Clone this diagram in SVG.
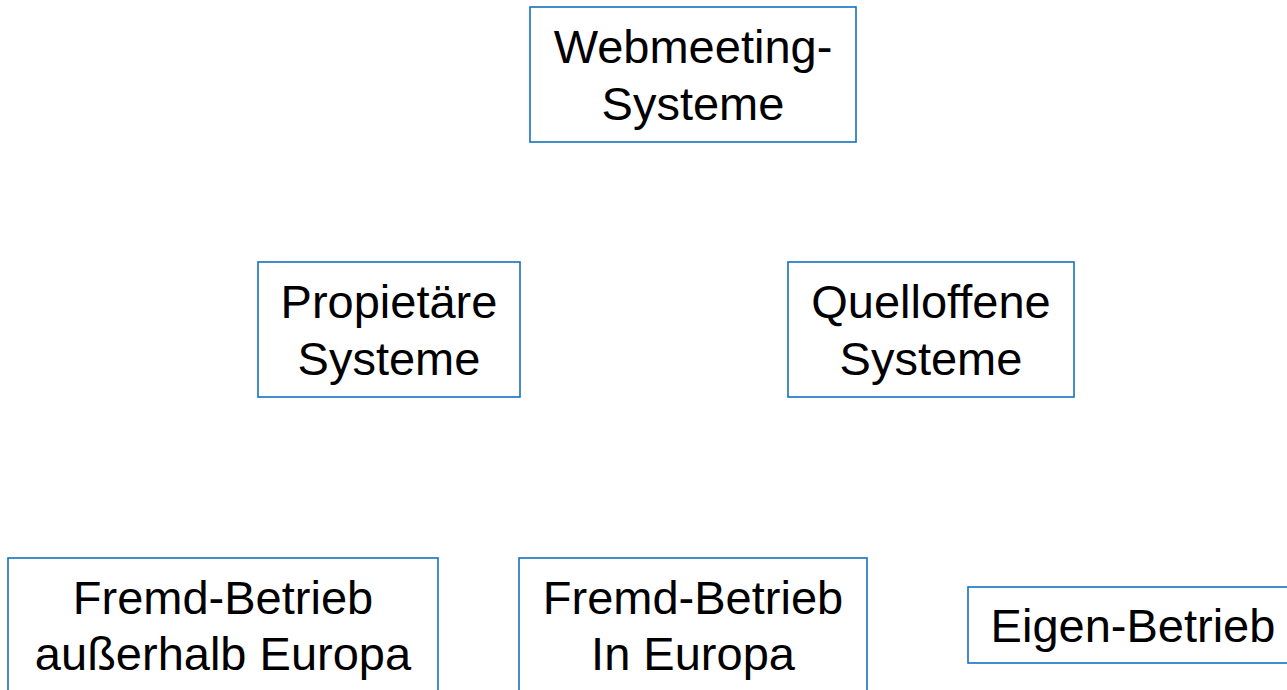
<svg xmlns="http://www.w3.org/2000/svg" width="1287" height="690" viewBox="0 0 1287 690">
  <style>
    .box { fill: #ffffff; stroke: #1570c2; stroke-width: 1.6; }
    .lbl { font-family: "Liberation Sans", Arial, sans-serif; font-size: 47px; fill: #000000; text-anchor: middle; }
  </style>
  <rect width="1287" height="690" fill="#ffffff"/>
  <g id="connectors"></g>
  <g id="webmeeting-systeme">
    <rect class="box" x="530" y="7" width="326" height="135"/>
    <text class="lbl" x="693" y="63">Webmeeting-</text>
    <text class="lbl" x="693" y="120">Systeme</text>
  </g>
  <g id="propietaere-systeme">
    <rect class="box" x="258" y="262" width="262" height="135"/>
    <text class="lbl" x="389" y="318">Propietäre</text>
    <text class="lbl" x="389" y="375">Systeme</text>
  </g>
  <g id="quelloffene-systeme">
    <rect class="box" x="788" y="262" width="286" height="135"/>
    <text class="lbl" x="931" y="318">Quelloffene</text>
    <text class="lbl" x="931" y="375">Systeme</text>
  </g>
  <g id="fremd-ausserhalb">
    <rect class="box" x="8" y="558" width="430" height="150"/>
    <text class="lbl" x="223" y="614">Fremd-Betrieb</text>
    <text class="lbl" x="223" y="670">außerhalb Europa</text>
  </g>
  <g id="fremd-europa">
    <rect class="box" x="519" y="558" width="348" height="150"/>
    <text class="lbl" x="693" y="614">Fremd-Betrieb</text>
    <text class="lbl" x="693" y="670">In Europa</text>
  </g>
  <g id="eigen-betrieb">
    <rect class="box" x="968" y="587" width="330" height="76"/>
    <text class="lbl" x="1133" y="642">Eigen-Betrieb</text>
  </g>
</svg>
